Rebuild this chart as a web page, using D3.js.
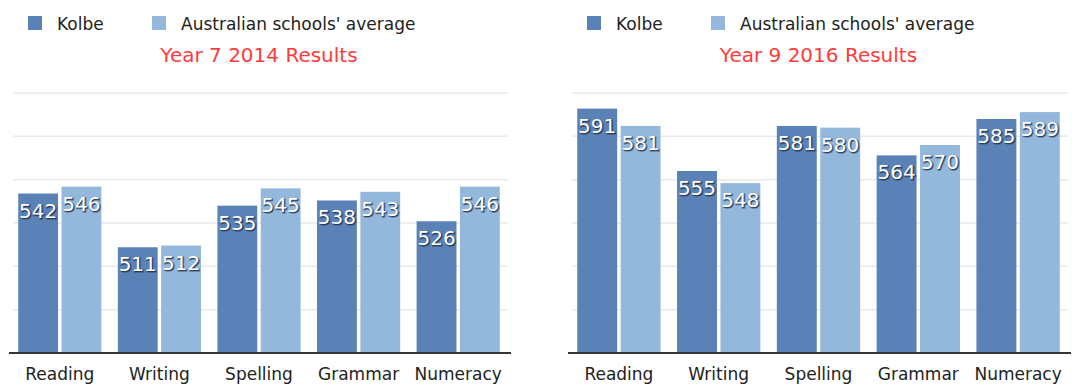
<!DOCTYPE html>
<html>
<head>
<meta charset="utf-8">
<script src="https://cdn.jsdelivr.net/npm/d3@7"></script>
<style>
  body { margin: 0; background: #fff; }
  svg { display: block; font-family: "DejaVu Sans", sans-serif; }
</style>
</head>
<body>
<svg id="chart" width="1078" height="385"></svg>
<script>
// data
const categories = ["Reading", "Writing", "Spelling", "Grammar", "Numeracy"];
const seriesNames = ["Kolbe", "Australian schools' average"];
const kolbe2014 = [542, 511, 535, 538, 526];
const avg2014 = [546, 512, 545, 543, 546];
const kolbe2016 = [591, 555, 581, 564, 585];
const avg2016 = [581, 548, 580, 570, 589];
const yTicks = [475, 500, 525, 550, 575, 600];

const colors = ["#5a82b6", "#94b8dc"];

const svg = d3.select("#chart");

const y = d3.scaleLinear()
    .domain([450, 600])
    .range([353, 93]);

function drawChart(title, kolbe, avg, left, right) {
    const g = svg.append("g");

    const x0 = d3.scaleBand()
        .domain(categories)
        .range([left, right])
        .paddingInner(0.165)
        .paddingOuter(0.0825);

    const x1 = d3.scaleBand()
        .domain(seriesNames)
        .range([0, x0.bandwidth()])
        .paddingInner(0.08);

    // gridlines
    g.selectAll(".grid")
        .data(yTicks)
        .enter().append("line")
        .attr("x1", left + 3)
        .attr("x2", right)
        .attr("y1", d => y(d))
        .attr("y2", d => y(d))
        .attr("stroke", "#e9e9e9")
        .attr("stroke-width", 1.5);

    const rows = categories.map((c, i) => ({ cat: c, vals: [kolbe[i], avg[i]] }));

    const groups = g.selectAll(".grp")
        .data(rows)
        .enter().append("g")
        .attr("transform", d => `translate(${x0(d.cat)},0)`);

    const cells = groups.selectAll("g")
        .data(d => d.vals.map((v, j) => ({ s: seriesNames[j], v: v, j: j })))
        .enter().append("g");

    cells.append("rect")
        .attr("x", d => x1(d.s))
        .attr("width", x1.bandwidth())
        .attr("y", d => y(d.v))
        .attr("height", d => y(450) - y(d.v))
        .attr("fill", d => colors[d.j]);

    // value labels: dark halo/shadow then white text
    cells.append("text")
        .attr("x", d => x1(d.s) + x1.bandwidth() / 2 + 1)
        .attr("y", d => y(d.v) + 25)
        .attr("text-anchor", "middle")
        .attr("font-size", 20)
        .attr("fill", "#223048")
        .attr("stroke", "#223048")
        .attr("stroke-width", 1.5)
        .attr("stroke-opacity", 0.5)
        .attr("opacity", 0.85)
        .text(d => d.v);

    cells.append("text")
        .attr("x", d => x1(d.s) + x1.bandwidth() / 2)
        .attr("y", d => y(d.v) + 24)
        .attr("text-anchor", "middle")
        .attr("font-size", 20)
        .attr("fill", "#fff")
        .text(d => d.v);

    // baseline
    g.append("line")
        .attr("x1", left - 1)
        .attr("x2", right + 3)
        .attr("y1", y(450))
        .attr("y2", y(450))
        .attr("stroke", "#333")
        .attr("stroke-width", 2);

    // category labels
    g.selectAll(".cat")
        .data(categories)
        .enter().append("text")
        .attr("x", d => x0(d) + x0.bandwidth() / 2)
        .attr("y", 380)
        .attr("text-anchor", "middle")
        .attr("font-size", 17)
        .attr("fill", "#222")
        .text(d => d);

    // legend
    const legend = g.selectAll(".leg")
        .data(seriesNames)
        .enter().append("g")
        .attr("transform", (d, i) => `translate(${left + 18 + i * 124},16)`);

    legend.append("rect")
        .attr("width", 14)
        .attr("height", 14)
        .attr("fill", (d, i) => colors[i]);

    legend.append("text")
        .attr("x", 29)
        .attr("y", 14)
        .attr("font-size", 17)
        .attr("fill", "#222")
        .text(d => d);

    // title
    g.append("text")
        .attr("x", (left + right) / 2)
        .attr("y", 62)
        .attr("text-anchor", "middle")
        .attr("font-size", 20)
        .attr("fill", "#ff3b3b")
        .text(title);
}

drawChart("Year 7 2014 Results", kolbe2014, avg2014, 10, 508);
drawChart("Year 9 2016 Results", kolbe2016, avg2016, 569, 1068);
</script>
</body>
</html>
